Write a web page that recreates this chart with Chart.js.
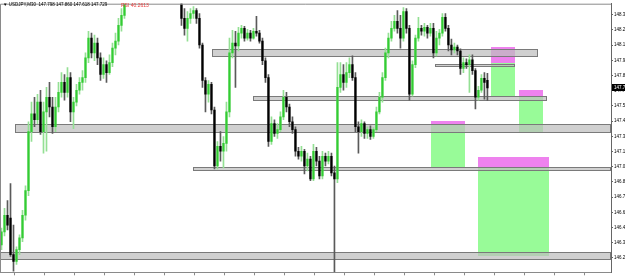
<!DOCTYPE html>
<html>
<head>
<meta charset="utf-8">
<script src="https://cdn.jsdelivr.net/npm/chart.js@4.4.0/dist/chart.umd.min.js"></script>
<style>
  html, body { margin: 0; padding: 0; background: #fff; }
  #wrap { position: relative; width: 625px; height: 276px; overflow: hidden; }
  #title { position: absolute; left: 3px; top: 2px; font: 4.5px "Liberation Sans", Arial, sans-serif; color: #000; white-space: pre; }
  #rsi { position: absolute; left: 121px; top: 2px; font: 5px "Liberation Sans", Arial, sans-serif; color: #e83c3c; white-space: pre; }
</style>
</head>
<body>
<div id="wrap">
  <canvas id="chart" width="625" height="276"></canvas>
  <div id="title">▼ USDJPY,M30  147.798 147.860 147.618 147.729</div>
  <div id="rsi">RSI 40.2613</div>
</div>
<script>
// Candles (USDJPY M30), one entry per bar
const opens = [
  146.336, 146.451, 146.599, 146.573, 146.249, 146.189, 146.293, 146.398, 146.599, 146.817,
  147.342, 147.500, 147.447, 147.604, 147.342, 147.517, 147.647, 147.560, 147.385, 147.560,
  147.691, 147.779, 147.691, 147.822, 147.517, 147.604, 147.709, 147.779, 147.822, 147.997,
  148.172, 148.041, 148.128, 147.997, 147.849, 147.937, 147.866, 147.954, 148.084, 148.146,
  148.286, 148.374, 148.522, 148.580, 148.560, 148.640, 148.700, 148.670, 148.730, 148.780,
  148.740, 148.690, 148.720, 148.660, 148.620, 148.650, 148.590, 148.610, 148.560, 148.580,
  148.565, 148.347, 148.259, 148.347, 148.391, 148.417, 148.347, 148.111, 147.796, 147.674,
  147.762, 147.534, 147.036, 147.210, 147.167, 147.237, 147.517, 148.041, 148.128, 148.102,
  148.216, 148.259, 148.172, 148.216, 148.172, 148.233, 148.216, 148.146, 147.971, 147.822,
  147.254, 147.412, 147.325, 147.359, 147.473, 147.647, 147.560, 147.429, 147.359, 147.167,
  147.123, 147.167, 147.036, 147.097, 146.922, 147.167, 147.080, 146.948, 147.123, 147.080,
  147.123, 146.975, 146.922, 147.735, 147.849, 147.779, 147.866, 147.937, 147.822, 147.385,
  147.342, 147.412, 147.325, 147.359, 147.298, 147.359, 147.517, 147.647, 147.822, 148.041,
  148.172, 148.259, 148.321, 148.259, 148.172, 148.408, 148.259, 147.674, 147.937, 148.172,
  148.259, 148.233, 148.268, 148.216, 148.259, 148.041, 148.172, 148.216, 148.356, 148.259,
  148.111, 148.067, 148.093, 148.058, 147.902, 147.954, 147.937, 147.980, 147.884, 147.647,
  147.709, 147.814, 147.798
];
const highs = [
  146.485, 146.660, 146.730, 146.879, 146.511, 146.319, 146.424, 146.643, 146.861, 147.429,
  147.604, 147.647, 147.674, 147.709, 147.604, 147.735, 147.779, 147.647, 147.647, 147.779,
  147.866, 147.849, 147.910, 147.866, 147.647, 147.762, 147.822, 147.884, 148.041, 148.233,
  148.216, 148.199, 148.172, 148.041, 147.997, 147.971, 148.024, 148.128, 148.216, 148.347,
  148.434, 148.609, 148.610, 148.620, 148.660, 148.720, 148.730, 148.760, 148.800, 148.810,
  148.760, 148.750, 148.740, 148.690, 148.680, 148.670, 148.640, 148.630, 148.610, 148.600,
  148.609, 148.434, 148.408, 148.434, 148.452, 148.434, 148.391, 148.128, 147.822, 147.796,
  147.779, 147.560, 147.254, 147.342, 147.298, 147.604, 148.172, 148.242, 148.233, 148.268,
  148.286, 148.277, 148.251, 148.242, 148.259, 148.365, 148.242, 148.172, 147.997, 147.849,
  147.473, 147.447, 147.412, 147.517, 147.709, 147.691, 147.587, 147.473, 147.385, 147.202,
  147.210, 147.184, 147.150, 147.123, 147.228, 147.202, 147.123, 147.167, 147.150, 147.167,
  147.150, 147.036, 147.954, 147.954, 147.937, 147.954, 147.997, 148.015, 147.866, 147.429,
  147.447, 147.429, 147.385, 147.394, 147.377, 147.560, 147.691, 147.866, 148.084, 148.216,
  148.321, 148.374, 148.417, 148.374, 148.443, 148.434, 148.286, 147.971, 148.199, 148.356,
  148.286, 148.303, 148.286, 148.303, 148.303, 148.233, 148.251, 148.391, 148.391, 148.286,
  148.163, 148.128, 148.111, 148.076, 147.997, 147.989, 148.024, 148.024, 147.902, 147.744,
  147.849, 147.866, 147.860
];
const lows = [
  146.293, 146.416, 146.468, 146.232, 146.101, 146.162, 146.249, 146.363, 146.555, 146.773,
  147.254, 147.385, 147.412, 147.316, 147.150, 147.167, 147.473, 147.325, 147.342, 147.517,
  147.647, 147.621, 147.647, 147.429, 147.368, 147.569, 147.674, 147.709, 147.779, 147.954,
  147.997, 147.971, 147.937, 147.796, 147.814, 147.779, 147.849, 147.919, 148.024, 148.111,
  148.233, 148.347, 148.505, 148.530, 148.540, 148.620, 148.650, 148.650, 148.710, 148.720,
  148.660, 148.670, 148.640, 148.590, 148.600, 148.570, 148.560, 148.540, 148.530, 148.530,
  148.286, 148.199, 148.146, 148.303, 148.347, 148.303, 148.084, 147.735, 147.517, 147.604,
  147.500, 147.010, 147.010, 147.080, 147.019, 147.167, 147.473, 147.997, 147.735, 148.058,
  148.172, 148.146, 148.155, 148.146, 148.164, 148.190, 148.128, 147.937, 147.779, 147.210,
  147.228, 147.298, 147.281, 147.342, 147.447, 147.517, 147.385, 147.325, 147.123, 147.097,
  147.080, 146.966, 146.992, 146.905, 146.905, 147.036, 146.922, 146.922, 147.036, 147.054,
  146.948, 146.095, 146.888, 147.691, 147.709, 147.735, 147.822, 147.796, 147.342, 147.150,
  147.298, 147.281, 147.281, 147.272, 147.281, 147.342, 147.500, 147.604, 147.796, 147.997,
  148.146, 148.233, 148.216, 148.084, 148.146, 148.216, 147.621, 147.656, 147.910, 148.146,
  148.199, 148.190, 148.172, 148.190, 147.997, 148.015, 148.111, 148.190, 148.233, 148.058,
  148.024, 148.041, 148.024, 147.849, 147.866, 147.902, 147.691, 147.849, 147.543, 147.621,
  147.691, 147.630, 147.618
];
const closes = [
  146.451, 146.599, 146.511, 146.249, 146.189, 146.293, 146.398, 146.599, 146.817, 147.342,
  147.500, 147.447, 147.604, 147.342, 147.517, 147.647, 147.560, 147.385, 147.560, 147.691,
  147.779, 147.691, 147.822, 147.517, 147.604, 147.709, 147.779, 147.822, 147.997, 148.172,
  148.041, 148.128, 147.997, 147.849, 147.937, 147.866, 147.954, 148.084, 148.146, 148.286,
  148.374, 148.522, 148.580, 148.560, 148.640, 148.700, 148.670, 148.730, 148.780, 148.740,
  148.690, 148.720, 148.660, 148.620, 148.650, 148.590, 148.610, 148.560, 148.580, 148.560,
  148.347, 148.259, 148.347, 148.391, 148.417, 148.347, 148.111, 147.796, 147.674, 147.762,
  147.534, 147.036, 147.210, 147.167, 147.237, 147.517, 148.041, 148.128, 148.102, 148.216,
  148.259, 148.172, 148.216, 148.172, 148.233, 148.216, 148.146, 147.971, 147.822, 147.254,
  147.412, 147.325, 147.359, 147.473, 147.647, 147.560, 147.429, 147.359, 147.167, 147.123,
  147.167, 147.036, 147.097, 146.922, 147.167, 147.080, 146.948, 147.123, 147.080, 147.123,
  146.975, 146.922, 147.735, 147.849, 147.779, 147.866, 147.937, 147.822, 147.385, 147.342,
  147.412, 147.325, 147.359, 147.298, 147.359, 147.517, 147.647, 147.822, 148.041, 148.172,
  148.259, 148.321, 148.259, 148.172, 148.408, 148.259, 147.674, 147.937, 148.172, 148.259,
  148.233, 148.268, 148.216, 148.259, 148.041, 148.172, 148.216, 148.356, 148.259, 148.111,
  148.067, 148.093, 148.058, 147.902, 147.954, 147.937, 147.980, 147.884, 147.647, 147.709,
  147.814, 147.779, 147.729
];

// Gray support/resistance zones (bar index from/to, price top/bottom)
const zoneStart  = [70.2, 144.5, 83.8, 4.5, 63.8, -0.5];
const zoneEnd    = [178.8, 171.2, 181.8, 203.2, 203.2, 203.2];
const zoneTop    = [148.076, 147.940, 147.657, 147.412, 147.027, 146.276];
const zoneBottom = [148.015, 147.927, 147.626, 147.342, 147.001, 146.210];

// Target boxes: magenta band on top, green below
const targetStart  = [143.2, 163.2, 172.5, 158.8];
const targetEnd    = [154.5, 171.2, 180.5, 182.5];
const targetTop    = [147.438, 148.093, 147.709, 147.115];
const targetMid    = [147.403, 147.954, 147.657, 147.027];
const targetBottom = [147.027, 147.657, 147.342, 146.241];

// Axis ticks
const priceTicks = [148.380, 148.245, 148.110, 147.975, 147.840, 147.705, 147.570, 147.435, 147.300,
  147.165, 147.030, 146.895, 146.760, 146.625, 146.490, 146.355, 146.220];
const timeTicks = [9.5, 19.5, 29.5, 39.5, 49.5, 59.5, 69.5, 79.5, 89.5, 99.5,
  109.5, 119.5, 129.5, 139.5, 149.5, 159.5, 169.5, 179.5, 189.5, 199.5];

const isUp = closes.map((c, i) => c >= opens[i]);

// Draw boxes behind the candles
const zonePlugin = {
  id: 'zones',
  beforeDatasetsDraw(chart) {
    const { ctx, chartArea, scales: { x, y } } = chart;
    ctx.save();
    ctx.beginPath();
    ctx.rect(chartArea.left, chartArea.top, chartArea.width, chartArea.height);
    ctx.clip();

    targetStart.forEach((s, i) => {
      const x0 = Math.round(x.getPixelForValue(s));
      const x1 = Math.round(x.getPixelForValue(targetEnd[i]));
      const yt = Math.round(y.getPixelForValue(targetTop[i]));
      const ym = Math.round(y.getPixelForValue(targetMid[i]));
      const yb = Math.round(y.getPixelForValue(targetBottom[i]));
      ctx.fillStyle = '#ee82ee';
      ctx.fillRect(x0, yt, x1 - x0, ym - yt);
      ctx.fillStyle = '#98fb98';
      ctx.fillRect(x0, ym, x1 - x0, yb - ym);
    });

    zoneStart.forEach((s, i) => {
      const x0 = Math.round(x.getPixelForValue(s));
      const x1 = Math.round(x.getPixelForValue(zoneEnd[i]));
      const yt = Math.round(y.getPixelForValue(zoneTop[i]));
      const yb = Math.round(y.getPixelForValue(zoneBottom[i]));
      ctx.fillStyle = 'rgba(190,190,190,0.72)';
      ctx.fillRect(x0, yt, x1 - x0, yb - yt);
      ctx.strokeStyle = '#7a7a7a';
      ctx.lineWidth = 1;
      ctx.strokeRect(x0 + 0.5, yt + 0.5, x1 - x0 - 1, yb - yt);
    });
    ctx.restore();
  }
};

// Frame + current price box on the price axis
const pricePlugin = {
  id: 'priceBox',
  afterDraw(chart) {
    const { ctx, chartArea, scales: { y } } = chart;
    ctx.save();
    ctx.strokeStyle = '#8a8a8a';
    ctx.lineWidth = 1;
    ctx.beginPath();
    ctx.moveTo(chartArea.left + 0.5, chartArea.bottom);
    ctx.lineTo(chartArea.left + 0.5, chartArea.top + 0.5);
    ctx.lineTo(chartArea.right, chartArea.top + 0.5);
    ctx.stroke();

    const last = closes[closes.length - 1];
    const py = Math.round(y.getPixelForValue(last));
    ctx.fillStyle = '#000';
    ctx.fillRect(chartArea.right + 1, py - 4, 14, 7);
    ctx.fillStyle = '#fff';
    ctx.font = '4.5px "Liberation Sans", Arial, sans-serif';
    ctx.textBaseline = 'middle';
    ctx.fillText(last.toFixed(3), chartArea.right + 3, py - 0.5);
    ctx.restore();
  }
};

const chart = new Chart(document.getElementById('chart'), {
  type: 'bar',
  data: {
    datasets: [
      {
        label: 'wick',
        data: highs.map((h, i) => ({ x: i, y: [lows[i], h] })),
        backgroundColor: isUp.map(u => u ? '#94e094' : '#5a5a5a'),
        barThickness: 1,
        grouped: false,
        order: 2
      },
      {
        label: 'body',
        data: opens.map((o, i) => ({ x: i, y: [o, closes[i]] })),
        backgroundColor: isUp.map(u => u ? '#33cc33' : '#000000'),
        barThickness: 1.6,
        grouped: false,
        order: 1
      }
    ]
  },
  options: {
    responsive: false,
    animation: false,
    layout: { padding: 0 },
    plugins: { legend: { display: false }, tooltip: { enabled: false } },
    scales: {
      x: {
        type: 'linear',
        min: -0.5,
        max: 203.2,
        offset: false,
        grid: { drawOnChartArea: false, tickLength: 3, color: '#8a8a8a' },
        border: { color: '#8a8a8a' },
        ticks: { display: false },
        afterBuildTicks: s => { s.ticks = timeTicks.map(v => ({ value: v })); },
        afterFit: s => { s.height = 3; }
      },
      y: {
        position: 'right',
        min: 146.092,
        max: 148.478,
        grid: { drawOnChartArea: false, tickLength: 2, color: '#666' },
        border: { color: '#666' },
        ticks: {
          color: '#000',
          padding: 1,
          font: { size: 4.5, family: '"Liberation Sans", Arial, sans-serif' },
          callback: v => v.toFixed(3)
        },
        afterBuildTicks: s => { s.ticks = priceTicks.map(v => ({ value: v })); },
        afterFit: s => { s.width = 14; }
      }
    }
  },
  plugins: [zonePlugin, pricePlugin]
});
</script>
</body>
</html>
